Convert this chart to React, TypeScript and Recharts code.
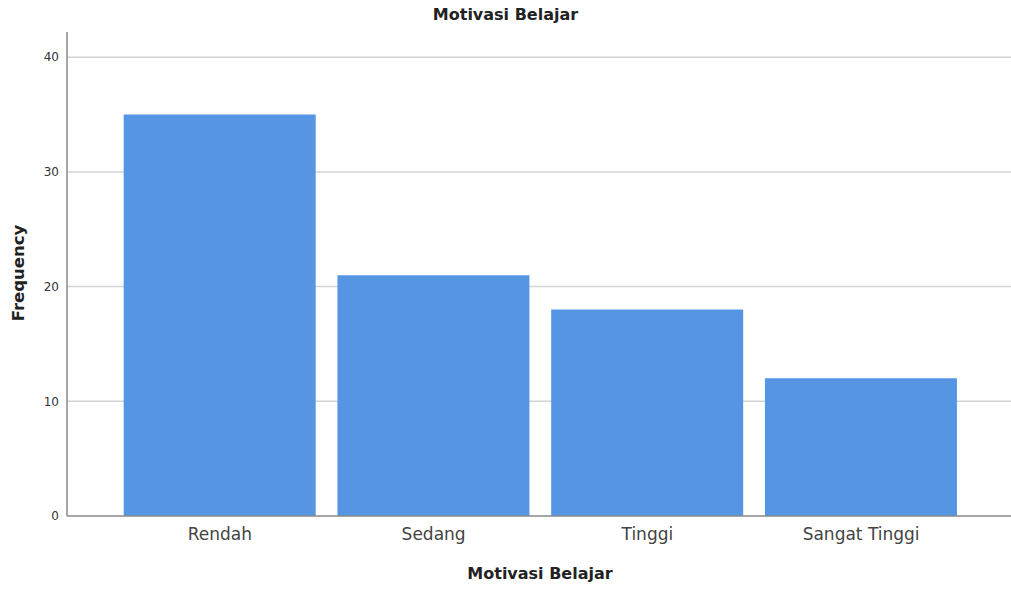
import { BarChart, Bar, XAxis, YAxis, CartesianGrid } from 'recharts';

const categories = ['Rendah', 'Sedang', 'Tinggi', 'Sangat Tinggi'];
const frequencies = [35, 21, 18, 12];
const yTicks = [0, 10, 20, 30, 40];

const data = categories.map((name, i) => ({ name, frequency: frequencies[i] }));

const font = '"DejaVu Sans", "Liberation Sans", sans-serif';

export default function App() {
  return (
    <div style={{ position: 'absolute', left: 0, top: 0, width: 1011, height: 590, fontFamily: font, background: '#fff' }}>
      <div style={{ position: 'absolute', top: 5, left: 0, width: 1011, textAlign: 'center', fontWeight: 'bold', fontSize: 16, color: '#222' }}>
        Motivasi Belajar
      </div>
      <BarChart
        width={1011}
        height={590}
        data={data}
        barCategoryGap="5%"
        margin={{ top: 32, right: 0, left: 27, bottom: 44 }}
      >
        <CartesianGrid vertical={false} horizontalValues={yTicks.slice(1)} stroke="#d4d4d4" strokeWidth={1.5} />
        <XAxis
          dataKey="name"
          height={30}
          padding={{ left: 46, right: 43 }}
          tickLine={false}
          axisLine={{ stroke: '#888', strokeWidth: 1.5 }}
          tickMargin={6}
          tick={{ fill: '#444', fontSize: 17, fontFamily: font }}
        />
        <YAxis
          width={40}
          domain={[0, 42.2]}
          ticks={yTicks}
          tickLine={false}
          axisLine={{ stroke: '#888', strokeWidth: 1.5 }}
          tick={{ fill: '#333', fontSize: 12, fontFamily: font }}
        />
        <Bar dataKey="frequency" fill="#5595e3" isAnimationActive={false} />
      </BarChart>
      <div style={{ position: 'absolute', top: 564, left: 80, width: 920, textAlign: 'center', fontWeight: 'bold', fontSize: 16, color: '#222' }}>
        Motivasi Belajar
      </div>
      <div
        style={{
          position: 'absolute',
          left: 18,
          top: 273,
          transform: 'translate(-50%, -50%) rotate(-90deg)',
          fontWeight: 'bold',
          fontSize: 16.5,
          color: '#222',
          whiteSpace: 'nowrap',
        }}
      >
        Frequency
      </div>
    </div>
  );
}
